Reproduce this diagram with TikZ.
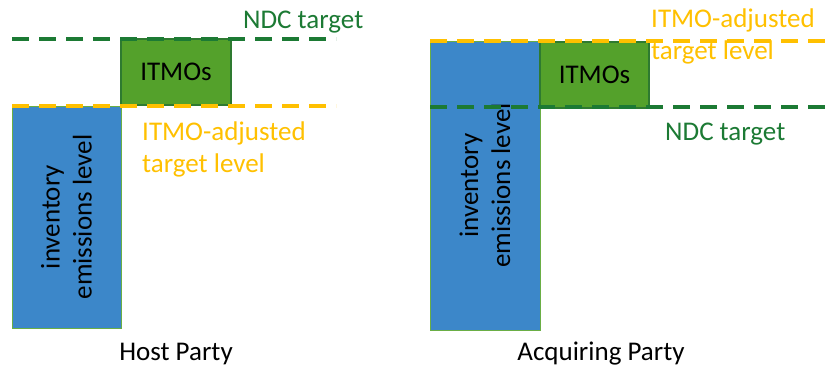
\documentclass[tikz,border=0pt]{standalone}
\usepackage{fontspec}
\setmainfont{Carlito}
\definecolor{barblue}{HTML}{3C87C9}
\definecolor{itmogreen}{HTML}{54A12B}
\definecolor{itmoedge}{HTML}{2E7A30}
\definecolor{ndcgreen}{HTML}{1C7A34}
\definecolor{adjorange}{HTML}{FFC000}
\definecolor{baredge}{HTML}{6AAE45}
\tikzset{
  x=1pt, y=-1pt,
  invbox/.style={draw=baredge, line width=1pt, fill=barblue, inner sep=0pt, outer sep=0pt},
  itmobox/.style={draw=itmoedge, line width=1.2pt, fill=itmogreen, inner sep=0pt, outer sep=0pt,
     font=\fontsize{27}{32}\selectfont},
  invtext/.style={rotate=90, align=center, font=\fontsize{27}{32}\selectfont, text=black},
  ndcline/.style={draw=ndcgreen, line width=3.5pt, dash pattern=on 17pt off 10pt},
  adjline/.style={draw=adjorange, line width=3.5pt, dash pattern=on 17pt off 10pt},
  lbl/.style={font=\fontsize{27}{32}\selectfont, anchor=west, align=left, inner sep=0pt},
  caption/.style={font=\fontsize{27}{32}\selectfont, inner sep=0pt},
}
\begin{document}
\begin{tikzpicture}
\useasboundingbox (0,0) rectangle (828,368);
% ---------- Host Party ----------
\node[invbox, minimum width=109pt, minimum height=222pt] (hinv) at (66.5,217) {};
\node[invtext] (hinvt) at (hinv.center) {inventory\\emissions level};
\node[itmobox, minimum width=110pt, minimum height=66pt] (hitmo) at (176,72) {ITMOs};
\coordinate (hndcA) at (12,39);
\coordinate (hndcB) at (336,39);
\coordinate (hadjA) at (12,106);
\coordinate (hadjB) at (336,106);
\draw[ndcline] (hndcA) -- (hndcB);
\draw[adjline] (hadjA) -- (hadjB);
\node[lbl, text=ndcgreen] (hndct) at (243,22) {NDC target};
\node[lbl, text=adjorange] (hadjt) at (142,149) {ITMO-adjusted\\target level};
\node[caption] (host) at (176,354) {Host Party};
% ---------- Acquiring Party ----------
\node[invbox, minimum width=110pt, minimum height=289pt] (ainv) at (485,185.5) {};
\node[invtext] (ainvt) at (ainv.center) {inventory\\emissions level};
\node[itmobox, minimum width=109pt, minimum height=66pt] (aitmo) at (594.5,75) {ITMOs};
\coordinate (aadjA) at (430,41);
\coordinate (aadjB) at (828,41);
\coordinate (andcA) at (430,107);
\coordinate (andcB) at (828,107);
\draw[adjline] (aadjA) -- (aadjB);
\draw[ndcline] (andcA) -- (andcB);
\node[lbl, text=adjorange] (aadjt) at (651,36) {ITMO-adjusted\\target level};
\node[lbl, text=ndcgreen] (andct) at (665,134) {NDC target};
\node[caption] (acq) at (601,354) {Acquiring Party};
\end{tikzpicture}
\end{document}
